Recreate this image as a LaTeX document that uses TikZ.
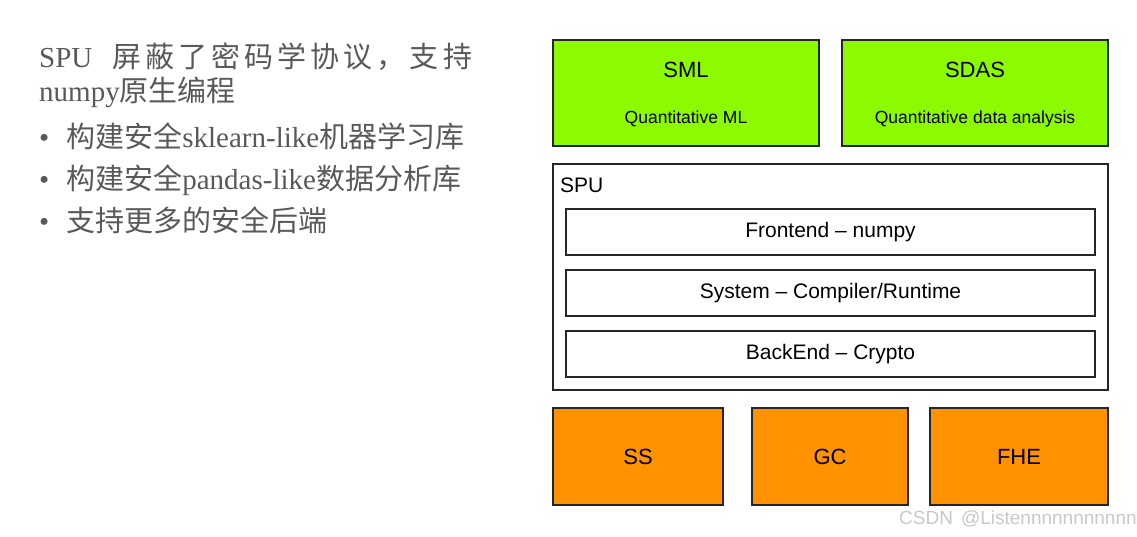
\documentclass[tikz,border=0pt]{standalone}
\usepackage{fontspec}
\setmainfont{Liberation Serif}
\setsansfont{Liberation Sans}
\newfontfamily\cjk{Noto Sans CJK SC}
\newfontfamily\cjkwide[LetterSpace=14]{Noto Sans CJK SC}
\newfontfamily\lsans{Liberation Sans}
\newfontfamily\lserif{Liberation Serif}
\definecolor{txtgray}{HTML}{595959}
\definecolor{smlgreen}{HTML}{8CFA00}
\definecolor{ssorange}{HTML}{FF9200}
\definecolor{wmgray}{HTML}{C8C8C8}
\tikzset{
  blk/.style={draw=black!85, line width=1.1pt},
  greenbox/.style={blk, fill=smlgreen},
  orangebox/.style={blk, fill=ssorange},
  layer/.style={blk, fill=white},
  boxtxt/.style={font=\lsans\fontsize{22}{26}\selectfont, inner sep=0pt},
  subtxt/.style={font=\lsans\fontsize{17.5}{21}\selectfont, inner sep=0pt},
  laytxt/.style={font=\lsans\fontsize{21}{25}\selectfont, inner sep=0pt},
  lefttxt/.style={font=\lserif\fontsize{29}{34}\selectfont, text=txtgray, inner sep=0pt, anchor=base west},
}
\begin{document}
\begin{tikzpicture}[x=1pt,y=-1pt]
\useasboundingbox (0,0) rectangle (1137,536);
% left text
\node[lefttxt] (l1) at (39,67) {SPU\hspace{20pt}{\cjkwide 屏蔽了密码学协议，支持}};
\node[lefttxt] (l2) at (39,101) {numpy{\cjk 原生编程}};
\node[lefttxt] (b1) at (39,147) {•\hspace{17pt}{\cjk 构建安全}sklearn-like{\cjk 机器学习库}};
\node[lefttxt] (b2) at (39,189) {•\hspace{17pt}{\cjk 构建安全}pandas-like{\cjk 数据分析库}};
\node[lefttxt] (b3) at (39,231) {•\hspace{17pt}{\cjk 支持更多的安全后端}};
% top boxes
\draw[greenbox] (553,40) rectangle (819,146);
\node[boxtxt] (sml) at (686,70) {SML};
\node[subtxt] (smlq) at (686,119) {Quantitative ML};
\draw[greenbox] (842,40) rectangle (1108,146);
\node[boxtxt] (sdas) at (975,70) {SDAS};
\node[subtxt] (sdasq) at (975,119) {Quantitative data analysis};
% SPU
\draw[layer] (553,164) rectangle (1108,390);
\node[laytxt, anchor=west] (spu) at (560,185) {SPU};
\draw[layer] (566,209) rectangle (1095,255);
\node[laytxt] (fe) at (830.5,232) {Frontend – numpy};
\draw[layer] (566,270) rectangle (1095,316);
\node[laytxt] (sys) at (830.5,293) {System – Compiler/Runtime};
\draw[layer] (566,331) rectangle (1095,377);
\node[laytxt] (be) at (830.5,354) {BackEnd – Crypto};
% bottom boxes
\draw[orangebox] (553,408) rectangle (723,505);
\node[boxtxt] (ss) at (638,457) {SS};
\draw[orangebox] (752,408) rectangle (908,505);
\node[boxtxt] (gc) at (830,457) {GC};
\draw[orangebox] (930,408) rectangle (1108,505);
\node[boxtxt] (fhe) at (1019,457) {FHE};
% watermark
\node[font=\lsans\fontsize{19}{21}\selectfont, text=wmgray, anchor=base west, inner sep=0pt] (wm) at (899,524) {CSDN\hspace{8pt}@Listennnnnnnnnnn};
\end{tikzpicture}
\end{document}
